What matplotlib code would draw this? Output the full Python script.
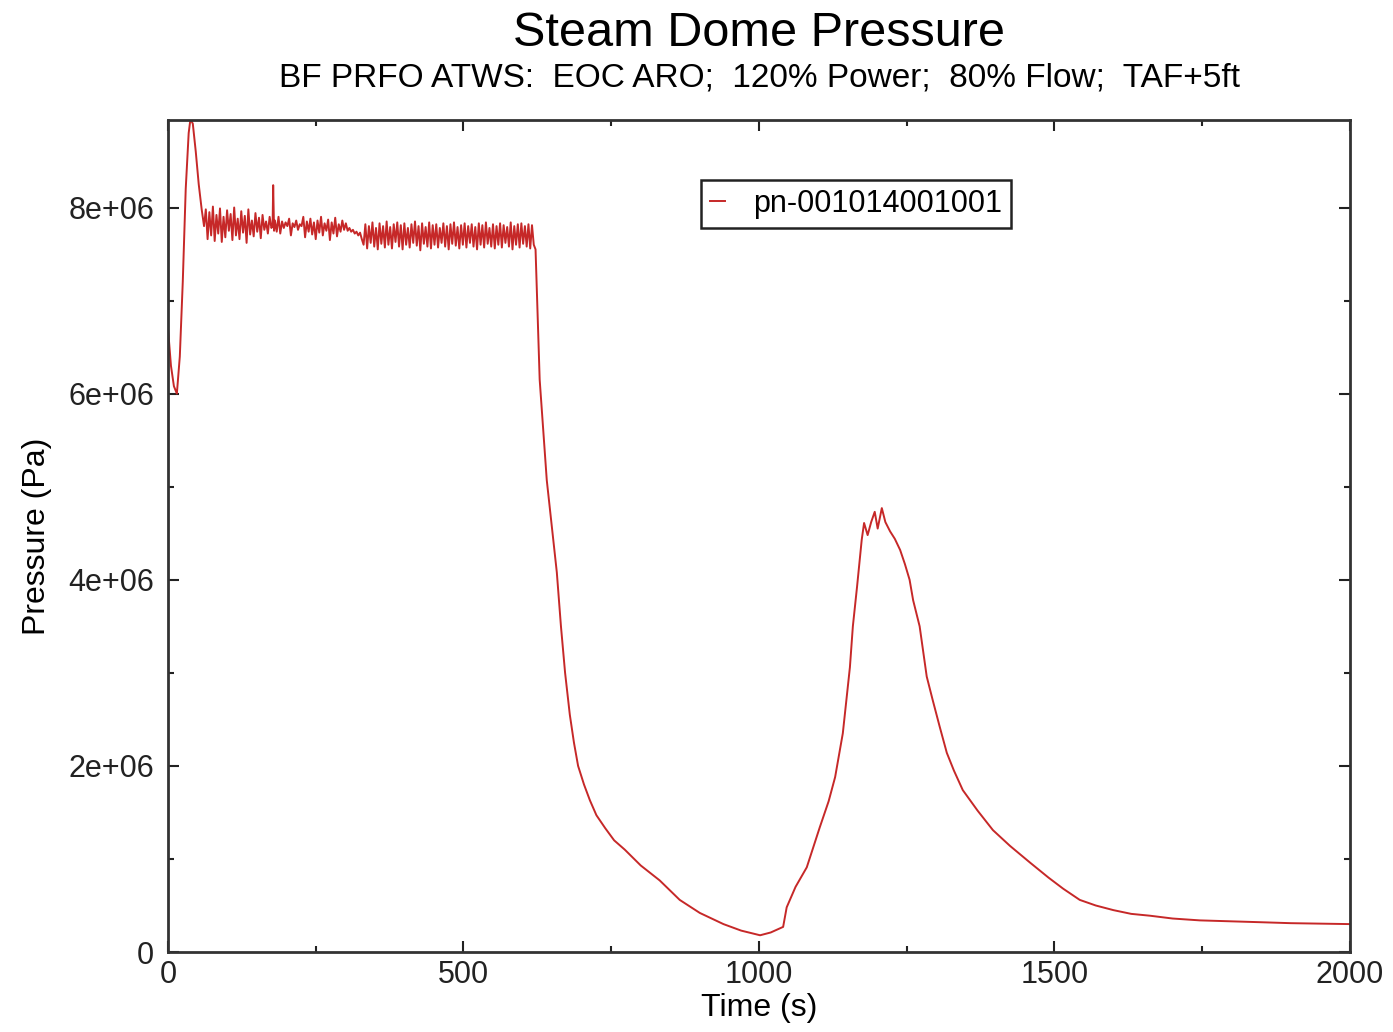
import numpy as np
import matplotlib
matplotlib.use("Agg")
import matplotlib.pyplot as plt
from matplotlib.ticker import MultipleLocator, FuncFormatter

plt.rcParams['font.family'] = ['Liberation Sans', 'DejaVu Sans']

# ---- data (time in s, pressure in units of 1e6 Pa) ----
t_start = [0, 5, 10, 15, 20, 25, 30, 35, 38, 42, 47, 52, 57, 61]
p_start = [6.7, 6.3, 6.08, 6.0, 6.4, 7.2, 8.2, 8.8, 8.95, 8.9, 8.6, 8.25, 7.98, 7.8]

# oscillating band, t = 64 + 3*i
band_a = [7.98, 7.66, 7.95, 7.70, 8.01, 7.64, 7.92, 7.72, 7.99, 7.63,
          7.90, 7.68, 7.97, 7.75, 7.93, 7.65, 8.00, 7.70, 7.88, 7.66,
          7.96, 7.73, 7.91, 7.62, 7.98, 7.71, 7.86, 7.69, 7.94, 7.74,
          7.89, 7.67, 7.92, 7.76, 7.85, 7.72, 7.90, 7.78]
t_spike = [177, 178, 179.5]
p_spike = [7.80, 8.24, 7.75]
# t = 181 + 3*i
band_b = [7.86, 7.74, 7.90, 7.72, 7.85, 7.78, 7.84, 7.80, 7.88, 7.70,
          7.83, 7.79, 7.86, 7.76, 7.82, 7.80, 7.90, 7.68, 7.85, 7.74,
          7.88, 7.71, 7.84, 7.66, 7.86, 7.73, 7.90, 7.70, 7.83, 7.75,
          7.87, 7.65, 7.84, 7.72, 7.89, 7.69, 7.82, 7.74, 7.86, 7.76,
          7.83, 7.75, 7.78, 7.74, 7.76, 7.72, 7.74, 7.70, 7.73, 7.66]
# t = 331 + 3*i
band_c = [7.60, 7.82, 7.56, 7.80, 7.62, 7.84, 7.58, 7.78, 7.55, 7.83,
          7.61, 7.80, 7.57, 7.85, 7.60, 7.79, 7.56, 7.82, 7.63, 7.84,
          7.58, 7.81, 7.55, 7.83, 7.60, 7.78, 7.57, 7.82, 7.62, 7.85,
          7.59, 7.80, 7.54, 7.83, 7.61, 7.79, 7.58, 7.84, 7.56, 7.81,
          7.60, 7.82, 7.57, 7.78, 7.62, 7.83, 7.58, 7.80, 7.55, 7.82,
          7.61, 7.84, 7.59, 7.79, 7.56, 7.81, 7.60, 7.83, 7.57, 7.80,
          7.62, 7.82, 7.58, 7.79, 7.55, 7.83, 7.60, 7.81, 7.57, 7.84,
          7.61, 7.78, 7.58, 7.82, 7.56, 7.80, 7.60, 7.83, 7.57, 7.81,
          7.62, 7.79, 7.58, 7.84, 7.55, 7.80, 7.60, 7.82, 7.57, 7.83,
          7.61, 7.80, 7.58, 7.82, 7.56, 7.81, 7.60]

t_tail = [622, 629, 641, 658, 665, 672, 680, 687, 694, 704, 714, 725, 740,
          755, 773, 800, 832, 866, 900, 940, 970, 1002, 1020, 1041, 1047,
          1062, 1081, 1103, 1118, 1129, 1142, 1154, 1159, 1166, 1174, 1178,
          1184, 1190, 1196, 1201, 1208, 1214, 1222, 1230, 1239, 1247, 1255,
          1261, 1272, 1284, 1294, 1306, 1318, 1330, 1345, 1370, 1396, 1425,
          1459, 1490, 1515, 1543, 1570, 1600, 1630, 1662, 1700, 1746, 1800,
          1850, 1900, 1950, 2000]
p_tail = [7.55, 6.15, 5.07, 4.08, 3.5, 3.0, 2.55, 2.25, 2.0, 1.8, 1.63,
          1.47, 1.33, 1.2, 1.1, 0.93, 0.77, 0.56, 0.42, 0.30, 0.23, 0.18,
          0.21, 0.27, 0.48, 0.70, 0.91, 1.34, 1.62, 1.88, 2.35, 3.06, 3.5,
          3.92, 4.43, 4.61, 4.48, 4.62, 4.73, 4.55, 4.77, 4.62, 4.52, 4.44,
          4.32, 4.17, 4.0, 3.78, 3.5, 2.96, 2.71, 2.42, 2.14, 1.95, 1.74,
          1.52, 1.31, 1.14, 0.96, 0.80, 0.68, 0.56, 0.50, 0.45, 0.41, 0.39,
          0.36, 0.34, 0.33, 0.32, 0.31, 0.305, 0.30]

series_label = "pn-001014001001"
x_ticks = [0, 500, 1000, 1500, 2000]
y_ticks = [0, 2e6, 4e6, 6e6, 8e6]

# ---- assemble series ----
t_a = 64 + 3 * np.arange(len(band_a))
t_b = 181 + 3 * np.arange(len(band_b))
t_c = 331 + 3 * np.arange(len(band_c))
t = np.concatenate([t_start, t_a, t_spike, t_b, t_c, t_tail])
p = np.concatenate([p_start, band_a, p_spike, band_b, band_c, p_tail]) * 1e6

fig = plt.figure(figsize=(13.93, 10.32), dpi=100)
ax = fig.add_axes([0.1206, 0.0775, 0.8484, 0.8062])
ax.plot(t, p, color='#c62828', lw=1.4, label=series_label)

ax.set_xlim(0, 2000)
ax.set_ylim(0, 8.94e6)
ax.set_xticks(x_ticks)
ax.set_yticks(y_ticks)
ax.xaxis.set_minor_locator(MultipleLocator(250))
ax.yaxis.set_minor_locator(MultipleLocator(1e6))
ax.yaxis.set_major_formatter(FuncFormatter(lambda v, _: "0" if v == 0 else f"{v:.0e}"))
ax.tick_params(which='both', direction='in', top=True, right=True, width=1.5,
               labelsize=22, colors='#222222')
ax.tick_params(which='major', length=8)
ax.tick_params(which='minor', length=4)
ax.tick_params(axis='y', pad=10)
ax.tick_params(axis='x', pad=6)
for s in ax.spines.values():
    s.set_linewidth(2.0)
    s.set_color('#333333')

ax.set_xlabel("Time (s)", fontsize=23, labelpad=2)
ax.set_ylabel("Pressure (Pa)", fontsize=23, labelpad=12)

fig.text(0.545, 0.968, "Steam Dome Pressure", ha='center', va='center', fontsize=35)
fig.text(0.545, 0.924, "BF PRFO ATWS:  EOC ARO;  120% Power;  80% Flow;  TAF+5ft",
         ha='center', va='center', fontsize=24)

leg = ax.legend(loc='upper left', bbox_to_anchor=(0.451, 0.928), fontsize=22,
                handlelength=0.5, handletextpad=0.9, borderpad=0.3,
                fancybox=False, framealpha=1, borderaxespad=0)
leg.get_frame().set_edgecolor('#222222')
leg.get_frame().set_linewidth(1.8)

fig.savefig("out.png", dpi=100)
